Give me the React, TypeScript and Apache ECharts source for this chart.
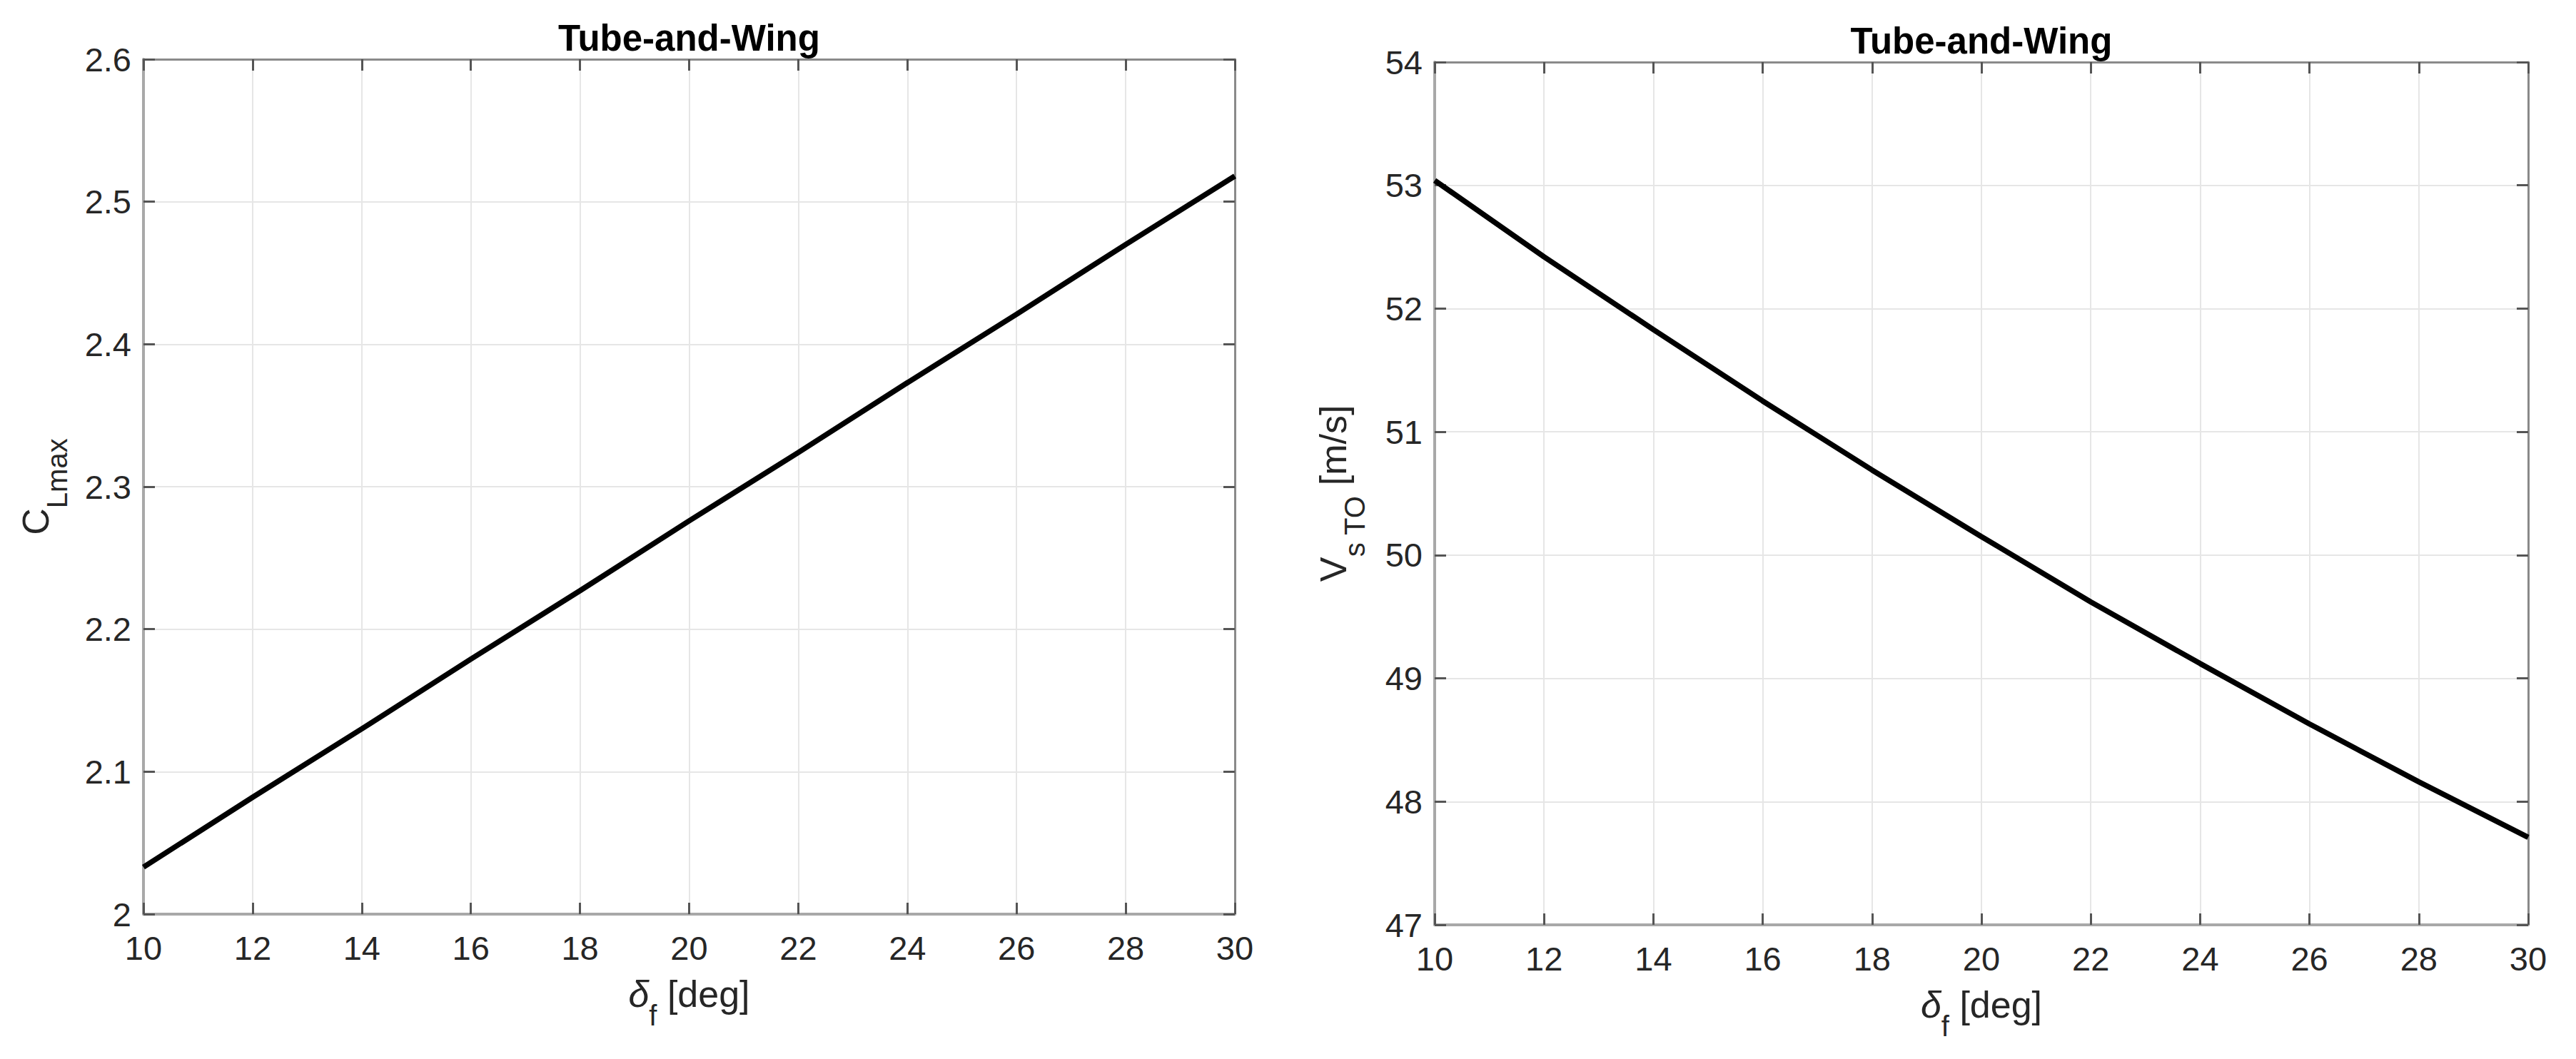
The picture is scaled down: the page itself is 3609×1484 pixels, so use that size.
import React, { useEffect, useRef } from "react";
import * as echarts from "echarts";

// ---- data ----
const deltaF: number[] = [10, 12, 14, 16, 18, 20, 22, 24, 26, 28, 30];
const clMax: number[] = [2.033, 2.082, 2.130, 2.179, 2.227, 2.276, 2.324, 2.373, 2.421, 2.470, 2.518];
const vsTO: number[] = [53.04, 52.42, 51.83, 51.25, 50.69, 50.15, 49.62, 49.12, 48.63, 48.16, 47.71];

const titles: string[] = ["Tube-and-Wing", "Tube-and-Wing"];
const xName = "{mi|δ}{s|f}{m| [deg]}";
const yNameLeft = "{m|C}{s|Lmax}";
const yNameRight = "{m|V}{s|s TO}{m| [m/s]}";

const FONT = '"Liberation Sans", Arial, Helvetica, sans-serif';
const TXT = "#262626";

const G = [
  { left: 201, top: 83, width: 1529, height: 1198 },
  { left: 2010, top: 87, width: 1532, height: 1209 },
];

const rich = {
  m: { fontSize: 52, lineHeight: 100, fontFamily: FONT, color: TXT },
  mi: { fontSize: 52, lineHeight: 100, fontFamily: FONT, fontStyle: "italic", color: TXT },
  s: { fontSize: 40, lineHeight: 100, verticalAlign: "bottom", fontFamily: FONT, color: TXT },
};

function bottomAxis(grid: number, nameGap: number) {
  return {
    type: "value",
    gridIndex: grid,
    position: "bottom",
    min: 10,
    max: 30,
    interval: 2,
    name: xName,
    nameLocation: "middle",
    nameGap,
    nameTextStyle: { rich },
    axisLine: { show: true, onZero: false, lineStyle: { color: "#a8a8a8", width: 4 } },
    axisTick: { show: true, inside: true, length: 16, lineStyle: { color: "#555555", width: 3 } },
    axisLabel: { show: true, margin: 24, fontSize: 47, fontFamily: FONT, color: TXT },
    splitLine: { show: true, lineStyle: { color: "#e6e6e6", width: 2 } },
  };
}
function topAxis(grid: number) {
  return {
    type: "value",
    gridIndex: grid,
    position: "top",
    min: 10,
    max: 30,
    interval: 2,
    axisLine: { show: true, onZero: false, lineStyle: { color: "#8a8a8a", width: 3 } },
    axisTick: { show: true, inside: true, length: 16, lineStyle: { color: "#555555", width: 3 } },
    axisLabel: { show: false },
    splitLine: { show: false },
  };
}
function leftAxis(grid: number, min: number, max: number, interval: number, name: string, nameGap: number, dec: number) {
  return {
    type: "value",
    gridIndex: grid,
    position: "left",
    min,
    max,
    interval,
    name,
    nameLocation: "middle",
    nameRotate: 90,
    nameGap,
    nameTextStyle: { rich },
    axisLine: { show: true, onZero: false, lineStyle: { color: "#a8a8a8", width: 4 } },
    axisTick: { show: true, inside: true, length: 16, lineStyle: { color: "#555555", width: 3 } },
    axisLabel: {
      show: true,
      margin: 17,
      fontSize: 47,
      fontFamily: FONT,
      color: TXT,
      formatter: (v: number) => String(Math.round(v * Math.pow(10, dec)) / Math.pow(10, dec)),
    },
    splitLine: { show: true, lineStyle: { color: "#e6e6e6", width: 2 } },
  };
}
function rightAxis(grid: number, min: number, max: number, interval: number) {
  return {
    type: "value",
    gridIndex: grid,
    position: "right",
    min,
    max,
    interval,
    axisLine: { show: true, onZero: false, lineStyle: { color: "#8a8a8a", width: 3 } },
    axisTick: { show: true, inside: true, length: 16, lineStyle: { color: "#555555", width: 3 } },
    axisLabel: { show: false },
    splitLine: { show: false },
  };
}

export default function App() {
  const ref = useRef<HTMLDivElement>(null);
  useEffect(() => {
    if (!ref.current) return;
    const chart = echarts.init(ref.current, null, { renderer: "svg" });
    const option = {
      animation: false,
      backgroundColor: "#ffffff",
      grid: G.map((g) => ({ ...g, containLabel: false })),
      xAxis: [bottomAxis(0, 62), topAxis(0), bottomAxis(1, 62), topAxis(1)],
      yAxis: [
        leftAxis(0, 2, 2.6, 0.1, yNameLeft, 101, 1),
        rightAxis(0, 2, 2.6, 0.1),
        leftAxis(1, 47, 54, 1, yNameRight, 92, 0),
        rightAxis(1, 47, 54, 1),
      ],
      graphic: G.map((g, i) => ({
        type: "text",
        x: g.left + g.width / 2,
        y: g.top - 30,
        style: {
          text: titles[i],
          font: `bold 51px ${FONT}`,
          textAlign: "center",
          textVerticalAlign: "middle",
          fill: "#000000",
        },
      })),
      series: [
        {
          type: "line",
          xAxisIndex: 0,
          yAxisIndex: 0,
          data: deltaF.map((x, i) => [x, clMax[i]]),
          showSymbol: false,
          lineStyle: { color: "#000000", width: 7.5 },
        },
        {
          type: "line",
          xAxisIndex: 2,
          yAxisIndex: 2,
          data: deltaF.map((x, i) => [x, vsTO[i]]),
          showSymbol: false,
          lineStyle: { color: "#000000", width: 7.5 },
        },
      ],
    };
    chart.setOption(option as any);
    return () => chart.dispose();
  }, []);
  return (
    <div
      ref={ref}
      style={{ position: "fixed", left: 0, top: 0, width: "3609px", height: "1484px", background: "#fff" }}
    />
  );
}
